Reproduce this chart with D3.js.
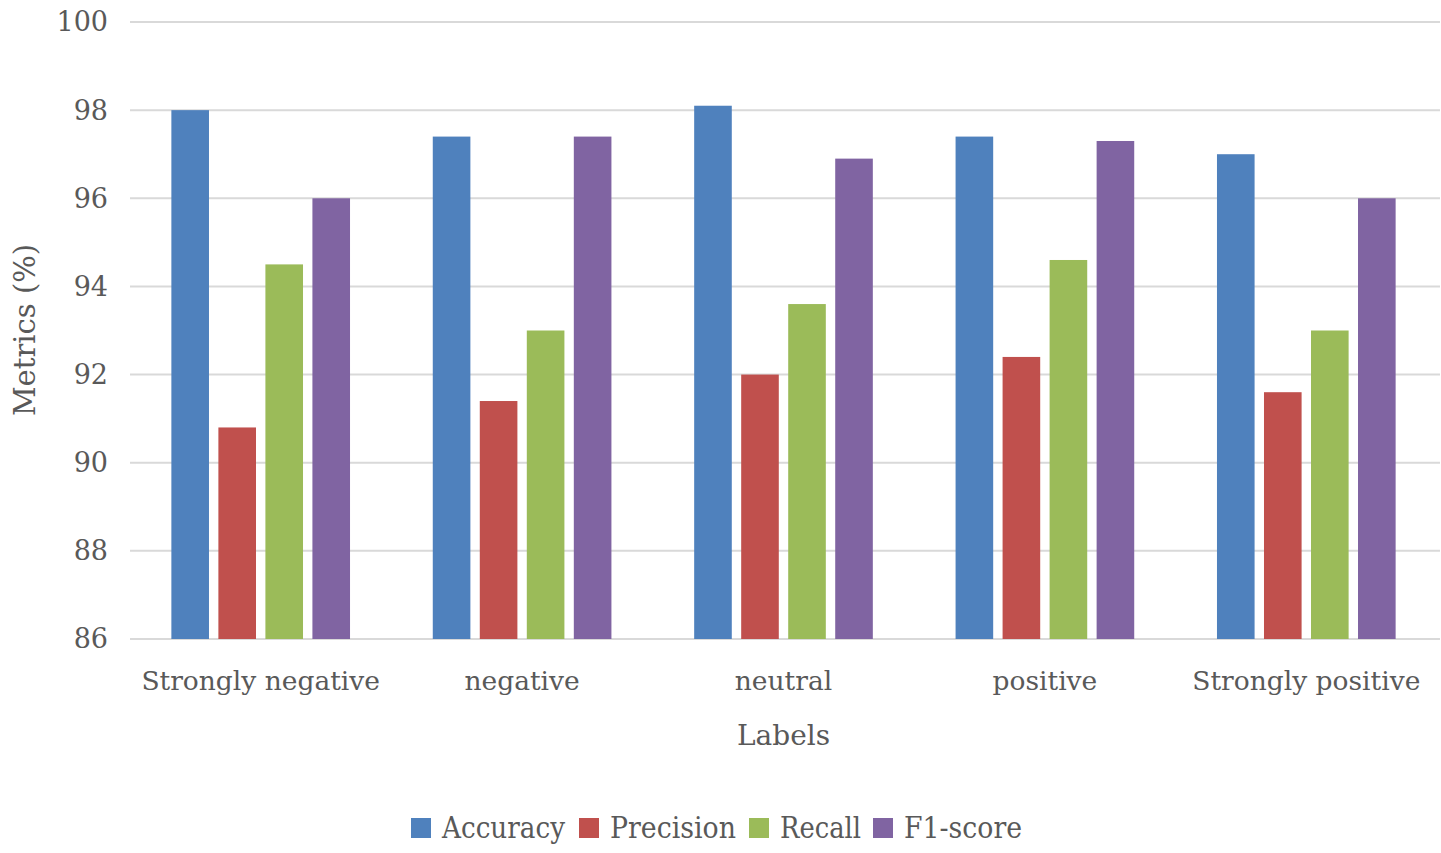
<!DOCTYPE html>
<html>
<head>
<meta charset="utf-8">
<script src="https://cdn.jsdelivr.net/npm/d3@7"></script>
<style>
  body { margin: 0; background: #fff; }
  text { font-family: "DejaVu Serif", "Liberation Serif", serif; fill: #595959; }
</style>
</head>
<body>
<div id="chart"></div>
<script>
// data
const categories = ["Strongly negative", "negative", "neutral", "positive", "Strongly positive"];
const seriesNames = ["Accuracy", "Precision", "Recall", "F1-score"];
const accuracy  = [98.0, 97.4, 98.1, 97.4, 97.0];
const precision = [90.8, 91.4, 92.0, 92.4, 91.6];
const recall    = [94.5, 93.0, 93.6, 94.6, 93.0];
const f1score   = [96.0, 97.4, 96.9, 97.3, 96.0];
const yTicks = [86, 88, 90, 92, 94, 96, 98, 100];
const colors = ["#4F81BD", "#C0504D", "#9BBB59", "#8064A2"];

const series = [accuracy, precision, recall, f1score];

const width = 1441, height = 853;
const margin = {left: 130, right: 4, top: 22, bottom: 214};

const svg = d3.select("#chart").append("svg")
    .attr("width", width)
    .attr("height", height);

const x0 = d3.scaleBand()
    .domain(categories)
    .range([margin.left, width - margin.right])
    .paddingInner(0)
    .paddingOuter(0);

const x1 = d3.scaleBand()
    .domain(seriesNames)
    .range([0, x0.bandwidth()])
    .paddingInner(0.2)
    .paddingOuter(0.88);

const y = d3.scaleLinear()
    .domain([86, 100])
    .range([height - margin.bottom, margin.top]);

// gridlines
svg.append("g")
    .selectAll("line")
    .data(yTicks)
    .enter().append("line")
    .attr("x1", margin.left)
    .attr("x2", width - 1)
    .attr("y1", d => y(d))
    .attr("y2", d => y(d))
    .attr("stroke", "#d9d9d9")
    .attr("stroke-width", 2);

// y tick labels
svg.append("g")
    .selectAll("text")
    .data(yTicks)
    .enter().append("text")
    .attr("x", 108)
    .attr("y", d => y(d))
    .attr("dy", "0.35em")
    .attr("text-anchor", "end")
    .style("font-size", "27px")
    .text(d => d);

// bars
const groups = svg.append("g")
    .selectAll("g")
    .data(categories)
    .enter().append("g")
    .attr("transform", d => "translate(" + x0(d) + ",0)");

groups.selectAll("rect")
    .data((d, i) => seriesNames.map((s, j) => ({name: s, value: series[j][i], idx: j})))
    .enter().append("rect")
    .attr("x", d => x1(d.name))
    .attr("width", x1.bandwidth())
    .attr("y", d => y(d.value))
    .attr("height", d => y(86) - y(d.value))
    .attr("fill", d => colors[d.idx]);

// category labels
svg.append("g")
    .selectAll("text")
    .data(categories)
    .enter().append("text")
    .attr("x", d => x0(d) + x0.bandwidth() / 2)
    .attr("y", 690)
    .attr("text-anchor", "middle")
    .style("font-size", "26.5px")
    .text(d => d);

// axis titles
svg.append("text")
    .attr("x", x0.range()[0] + (x0.range()[1] - x0.range()[0]) / 2)
    .attr("y", 745)
    .attr("text-anchor", "middle")
    .style("font-size", "28px")
    .text("Labels");

svg.append("text")
    .attr("transform", "translate(35,330) rotate(-90)")
    .attr("text-anchor", "middle")
    .style("font-size", "29px")
    .text("Metrics (%)");

// legend
const legendX = [411, 579, 749, 873];
const legendW = [123, 126, 81, 118];
const legend = svg.append("g")
    .selectAll("g")
    .data(seriesNames)
    .enter().append("g")
    .attr("transform", (d, i) => "translate(" + legendX[i] + ",818)");

legend.append("rect")
    .attr("width", 20)
    .attr("height", 20)
    .attr("fill", (d, i) => colors[i]);

legend.append("text")
    .attr("x", 31)
    .attr("y", 10)
    .attr("dy", "0.35em")
    .attr("textLength", (d, i) => legendW[i])
    .attr("lengthAdjust", "spacingAndGlyphs")
    .style("font-size", "29px")
    .text(d => d);
</script>
</body>
</html>
